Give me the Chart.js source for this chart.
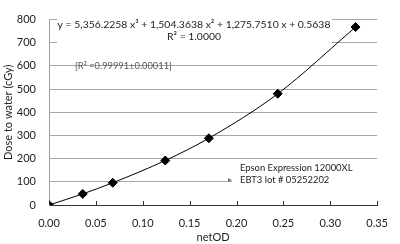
<!DOCTYPE html>
<html>
<head>
<meta charset="utf-8">
<script src="https://cdn.jsdelivr.net/npm/chart.js@4"></script>
<style>
  html, body { margin: 0; padding: 0; background: #fff; }
  #wrap { width: 400px; height: 244px; position: relative; }
</style>
</head>
<body>
<div id="wrap"><canvas id="c"></canvas></div>
<script>
// netOD readings and delivered dose
const netOD = [0.0, 0.036, 0.068, 0.124, 0.1705, 0.244, 0.327];
const dose = [0, 48, 96, 192, 288, 480, 768];
const xTicks = [0, 0.05, 0.10, 0.15, 0.20, 0.25, 0.30, 0.35];
const fitText = 'y = 5,356.2258 x\u00b3 + 1,504.3638 x\u00b2 + 1,275.7510 x + 0.5638';
const r2Text = 'R\u00b2 = 1.0000';
const r2Range = '[R\u00b2 =0.99991\u00b10.00011]';
const scanner = ['Epson Expression 12000XL', 'EBT3 lot # 05252202'];

const FONT = 'Lato, "Open Sans", sans-serif';
Chart.defaults.font.family = FONT;
Chart.defaults.color = '#222';

// text boxes sit over the gridlines, drawn before the curve
const notes = {
  id: 'notes',
  beforeDatasetsDraw(chart) {
    const { ctx, chartArea: a } = chart;
    ctx.save();
    ctx.fillStyle = '#fff';
    ctx.fillRect(a.left + 8, 17, 275, 26);
    ctx.fillRect(232, 160, 153, 28);
    ctx.font = '10.4px ' + FONT;
    ctx.fillStyle = '#222';
    ctx.textAlign = 'center';
    ctx.textBaseline = 'middle';
    ctx.fillText(fitText, 194, 25);
    ctx.fillText(r2Text, 194, 37);
    ctx.font = '9.4px ' + FONT;
    ctx.textAlign = 'left';
    ctx.fillText(scanner[0], 240, 168);
    ctx.fillText(scanner[1], 240, 180);
    ctx.font = '9.3px ' + FONT;
    ctx.fillStyle = '#555';
    ctx.fillText(r2Range, 75, 66);
    // arrow tip on the cut gridline
    ctx.beginPath();
    ctx.moveTo(228, 178); ctx.lineTo(232, 180); ctx.lineTo(228, 182);
    ctx.closePath();
    ctx.fillStyle = '#777';
    ctx.fill();
    ctx.restore();
  },
  afterDraw(chart) {
    const { ctx, chartArea: a } = chart;
    const xs = chart.scales.x;
    ctx.save();
    ctx.strokeStyle = '#333';
    ctx.lineWidth = 1;
    xTicks.forEach(v => {
      const px = Math.round(xs.getPixelForValue(v)) + 0.5;
      ctx.beginPath();
      ctx.moveTo(px, a.bottom);
      ctx.lineTo(px, a.bottom - 4);
      ctx.stroke();
    });
    ctx.restore();
  }
};

new Chart(document.getElementById('c'), {
  type: 'scatter',
  data: {
    datasets: [{
      data: netOD.map((x, i) => ({ x: x, y: dose[i] })),
      showLine: true,
      borderColor: '#000',
      borderWidth: 1,
      cubicInterpolationMode: 'monotone',
      pointStyle: 'rectRot',
      pointRadius: 4.5,
      pointBackgroundColor: '#000',
      pointBorderColor: '#000'
    }]
  },
  options: {
    responsive: true,
    maintainAspectRatio: false,
    animation: false,
    layout: { padding: { top: 4, right: 8, left: 0, bottom: 0 } },
    plugins: { legend: { display: false }, tooltip: { enabled: false } },
    scales: {
      x: {
        type: 'linear',
        min: 0, max: 0.35,
        afterBuildTicks: s => { s.ticks = xTicks.map(v => ({ value: v })); },
        afterFit: s => { s.height = 39; },
        grid: { display: false, drawTicks: false },
        border: { color: '#333', width: 1 },
        ticks: { font: { size: 11 }, padding: 12, callback: v => v.toFixed(2) },
        title: { display: true, text: 'netOD', font: { size: 11 }, padding: { top: 4, bottom: 0 } }
      },
      y: {
        min: 0, max: 800,
        afterFit: s => { s.width = 49; },
        grid: { color: '#a6a6a6', tickLength: 0 },
        border: { color: '#a0a0a0', width: 1 },
        ticks: { stepSize: 100, font: { size: 11 }, padding: 13 },
        title: { display: true, text: 'Dose to water (cGy)', font: { size: 11 }, padding: { top: 2, bottom: 4 } }
      }
    }
  },
  plugins: [notes]
});
</script>
</body>
</html>
